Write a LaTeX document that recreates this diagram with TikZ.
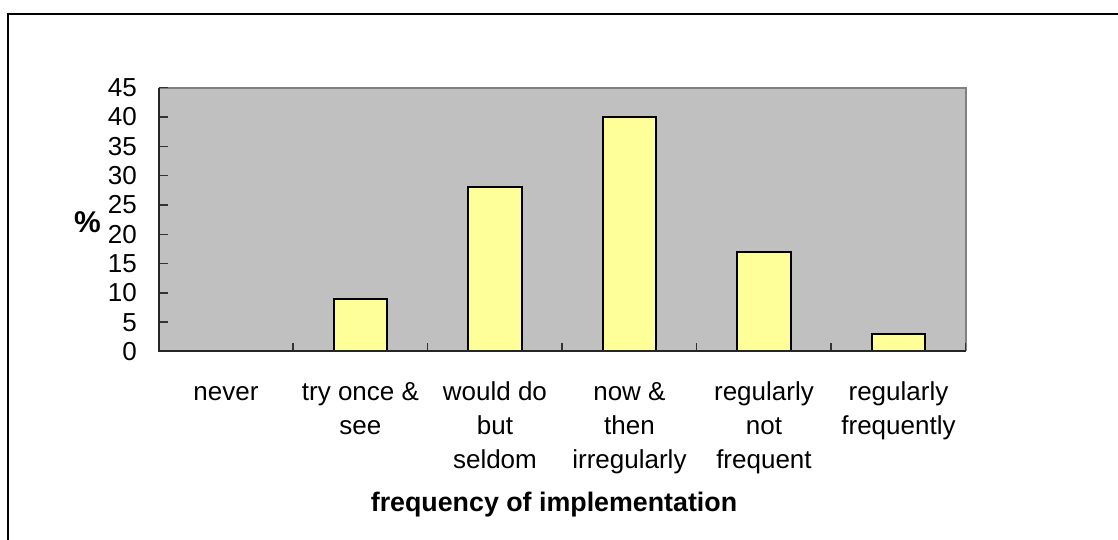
\documentclass[tikz,border=0pt]{standalone}
\usepackage{fontspec}
\setmainfont{Liberation Sans}
\usepackage{tikz}
\usetikzlibrary{positioning}

\definecolor{plotgrey}{HTML}{C0C0C0}
\definecolor{bargold}{HTML}{FFFF99}
\definecolor{framegrey}{HTML}{808080}

\tikzset{
  chartfont/.style={font=\fontsize{26}{34}\selectfont},
  ticklabel/.style={chartfont, anchor=east, inner sep=0pt},
  catlabel/.style={chartfont, anchor=north, align=center, inner sep=0pt},
  titlelabel/.style={font=\fontsize{26.8}{34}\selectfont\bfseries, inner sep=0pt},
  barbox/.style={draw=black, line width=2pt, fill=bargold},
  axisline/.style={draw=black!85, line width=2pt},
  tickmark/.style={draw=black!80, line width=1.5pt}
}

\begin{document}
\begin{tikzpicture}[x=1pt, y=1pt]
\useasboundingbox (0,0) rectangle (1118,540);

% outer frame (cut off right and bottom)
\draw[line width=2pt] (7.5,0) -- (7.5,526) -- (1118,526);

\begin{scope}[shift={(158.7,188.5)}, x=134.5pt, y=5.862pt]
  % plot area
  \fill[plotgrey] (0,0) rectangle (6,45);
  \draw[draw=framegrey, line width=2pt] (0,45) -- (6,45) -- (6,0);

  % value ticks and labels
  \foreach \v in {0,5,...,45} {
    \draw[tickmark] (0,\v) -- ++(9pt,0);
    \node[ticklabel] (t\v) at ([xshift=-21.7pt]0,\v) {\v};
  }

  % category ticks
  \foreach \c in {1,...,6}
    \draw[tickmark] (\c,0) -- ++(0,8pt);

  % bars
  \foreach \c/\h in {1/9, 2/28, 3/40, 4/17, 5/3}
    \draw[barbox] (\c+0.3,0) rectangle (\c+0.7,\h);

  % axes
  \draw[axisline] (0,45) -- (0,0) -- (6,0);

  % category labels
  \node[catlabel] (c0) at ([yshift=-25pt]0.5,0) {\strut never};
  \node[catlabel] (c1) at ([yshift=-25pt]1.5,0) {\strut try once \&\\see};
  \node[catlabel] (c2) at ([yshift=-25pt]2.5,0) {\strut would do\\but\\seldom};
  \node[catlabel] (c3) at ([yshift=-25pt]3.5,0) {\strut now \&\\then\\irregularly};
  \node[catlabel] (c4) at ([yshift=-25pt]4.5,0) {\strut regularly\\not\\frequent};
  \node[catlabel] (c5) at ([yshift=-25pt]5.5,0) {\strut regularly\\frequently};
\end{scope}

% axis titles
\node[titlelabel, font=\fontsize{30}{34}\selectfont\bfseries] (ytitle) at (87.5,318) {\%};
\node[titlelabel, anchor=base] (xtitle) at (554,28) {frequency of implementation};

\end{tikzpicture}
\end{document}
